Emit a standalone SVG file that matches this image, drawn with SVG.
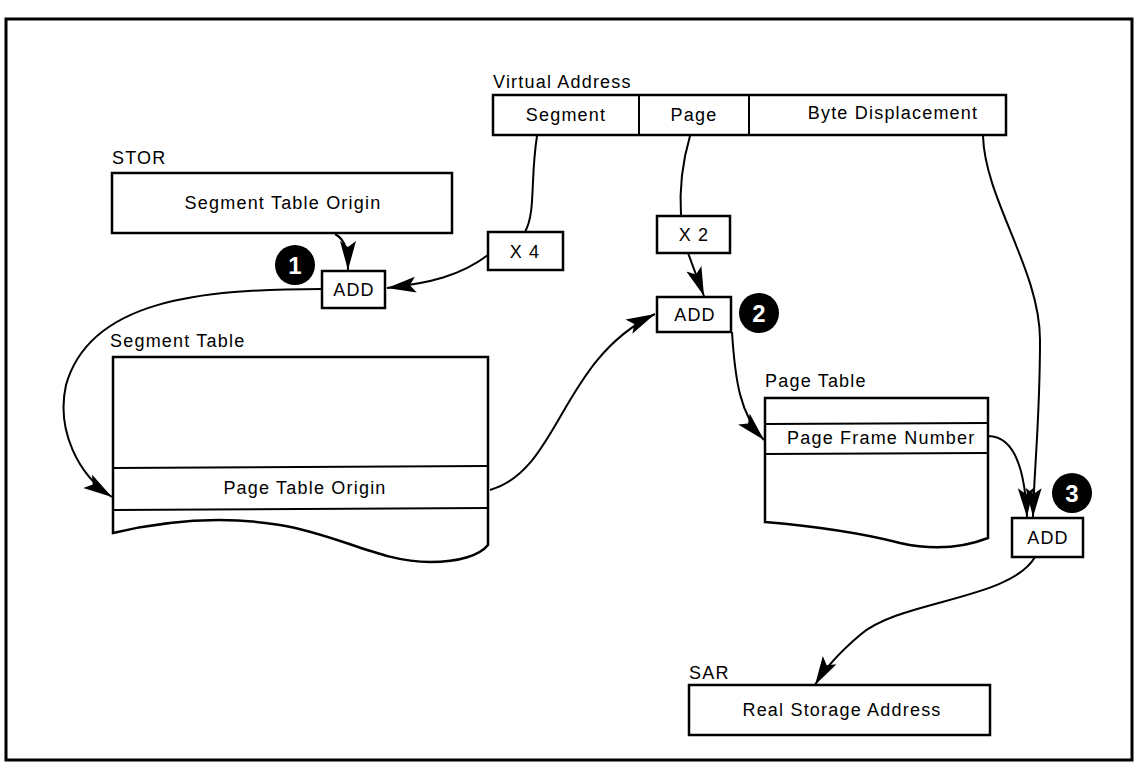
<svg xmlns="http://www.w3.org/2000/svg" width="1141" height="768" viewBox="0 0 1141 768">
<style>
.box{fill:#fff;stroke:#000;stroke-width:2.5}
.ln{fill:none;stroke:#000;stroke-width:2}
.t{font-family:"Liberation Sans",Arial,sans-serif;font-size:18px;letter-spacing:1.2px;fill:#000}
.c{text-anchor:middle}
.num{font-family:"Liberation Sans",Arial,sans-serif;font-size:24px;font-weight:bold;fill:#fff;text-anchor:middle}
</style>
<defs>
<marker id="ah" markerUnits="userSpaceOnUse" markerWidth="32" markerHeight="18" refX="29" refY="8" orient="auto">
<path d="M0,0 L29,8 L0,16 L6,8 Z" fill="#000"/>
</marker>
</defs>
<rect x="0" y="0" width="1141" height="768" fill="#fff"/>
<rect x="6" y="19" width="1126" height="741" fill="none" stroke="#000" stroke-width="3"/>

<g id="virtual-address">
<text class="t" x="493" y="88">Virtual Address</text>
<rect class="box" x="493" y="95" width="513" height="40"/>
<line class="ln" x1="639" y1="95" x2="639" y2="135"/>
<line class="ln" x1="749" y1="95" x2="749" y2="135"/>
<text class="t c" x="566" y="121">Segment</text>
<text class="t c" x="694" y="121">Page</text>
<text class="t c" x="893" y="119">Byte Displacement</text>
</g>

<g id="stor">
<text class="t" x="112" y="164">STOR</text>
<rect class="box" x="112" y="173" width="340" height="60"/>
<text class="t c" x="283" y="209">Segment Table Origin</text>
</g>

<g id="x4">
<rect class="box" x="488" y="232" width="75" height="38"/>
<text class="t c" x="525" y="258">X 4</text>
</g>

<g id="add1">
<rect class="box" x="322" y="271" width="63" height="37"/>
<text class="t c" x="354" y="296">ADD</text>
<circle cx="295" cy="265" r="20" fill="#000"/>
<text class="num" x="295" y="274">1</text>
</g>

<g id="x2">
<rect class="box" x="657" y="216" width="73" height="37"/>
<text class="t c" x="694" y="241">X 2</text>
</g>

<g id="add2">
<rect class="box" x="657" y="297" width="74" height="35"/>
<text class="t c" x="695" y="321">ADD</text>
<circle cx="759" cy="313" r="20" fill="#000"/>
<text class="num" x="759" y="322">2</text>
</g>

<g id="segment-table">
<text class="t" x="110" y="347">Segment Table</text>
<path class="box" d="M113,357 L488,357 L488,545 C480,555 460,562 430,562 C380,562 340,535 280,525 C220,515 160,522 113,533 Z"/>
<line class="ln" x1="113" y1="468" x2="488" y2="466"/>
<line class="ln" x1="113" y1="510" x2="488" y2="508"/>
<text class="t c" x="305" y="494">Page Table Origin</text>
</g>

<g id="page-table">
<text class="t" x="765" y="387">Page Table</text>
<path class="box" d="M765,398 L988,398 L988,538 C970,545 940,552 900,543 C850,530 800,525 765,522 Z"/>
<line class="ln" x1="765" y1="424" x2="988" y2="423"/>
<line class="ln" x1="765" y1="454" x2="988" y2="453"/>
<text class="t" x="787" y="444">Page Frame Number</text>
</g>

<g id="add3">
<rect class="box" x="1012" y="518" width="71" height="39"/>
<text class="t c" x="1048" y="544">ADD</text>
<circle cx="1072" cy="493" r="20" fill="#000"/>
<text class="num" x="1072" y="502">3</text>
</g>

<g id="sar">
<text class="t" x="689" y="679">SAR</text>
<rect class="box" x="689" y="685" width="301" height="50"/>
<text class="t c" x="842" y="716">Real Storage Address</text>
</g>

<g id="connectors">
<path class="ln" d="M537,136 C530,180 536,212 525,232"/>
<path class="ln" d="M488,255 C460,276 430,283 387,288" marker-end="url(#ah)"/>
<path class="ln" d="M335,234 C346,240 348,252 348,270" marker-end="url(#ah)"/>
<path class="ln" d="M322,289 C200,289 90,300 66,385 C56,430 78,475 112,497" marker-end="url(#ah)"/>
<path class="ln" d="M490,490 C560,470 560,360 655,314" marker-end="url(#ah)"/>
<path class="ln" d="M690,136 C680,170 680,200 681,216"/>
<path class="ln" d="M688,253 L704,296" marker-end="url(#ah)"/>
<path class="ln" d="M732,332 C735,380 740,415 764,440" marker-end="url(#ah)"/>
<path class="ln" d="M983,136 C985,200 1040,270 1040,340 C1040,420 1034,470 1033,517" marker-end="url(#ah)"/>
<path class="ln" d="M988,436 C1015,436 1025,470 1027,517" marker-end="url(#ah)"/>
<path class="ln" d="M1035,557 C1010,600 900,600 860,635 C840,652 825,668 815,685" marker-end="url(#ah)"/>
</g>
</svg>
